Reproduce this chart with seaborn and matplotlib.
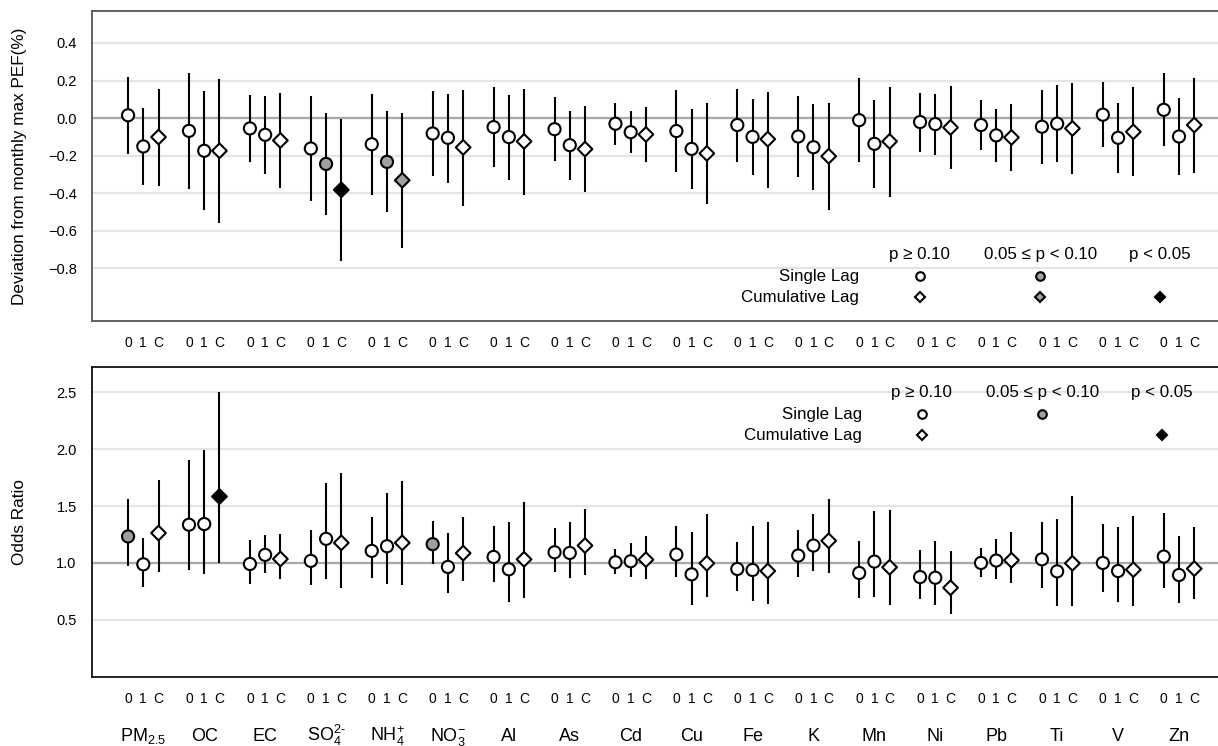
import matplotlib
matplotlib.use("Agg")
import matplotlib.pyplot as plt
import pandas as pd
import seaborn as sns


POLLUTANTS = [
    r"PM$_{2.5}$", "OC", "EC", r"SO$_4^{\mathrm{2\text{-}}}$", r"NH$_4^{+}$", r"NO$_3^{-}$",
    "Al", "As", "Cd", "Cu", "Fe", "K", "Mn", "Ni", "Pb", "Ti", "V", "Zn",
]
LAGS = ["0", "1", "C"]

# deviation from monthly max PEF (%), lag 0 / lag 1 / cumulative
PEF_EST = [
    [0.015, -0.151, -0.101], [-0.068, -0.174, -0.174], [-0.055, -0.089, -0.119],
    [-0.162, -0.244, -0.382], [-0.139, -0.233, -0.331], [-0.082, -0.105, -0.156],
    [-0.048, -0.101, -0.124], [-0.059, -0.144, -0.165], [-0.030, -0.075, -0.087],
    [-0.069, -0.164, -0.188], [-0.037, -0.100, -0.112], [-0.098, -0.155, -0.203],
    [-0.011, -0.137, -0.124], [-0.021, -0.032, -0.050], [-0.037, -0.092, -0.103],
    [-0.046, -0.030, -0.055], [0.018, -0.105, -0.073], [0.044, -0.098, -0.037],
]
PEF_LO = [
    [-0.190, -0.356, -0.359], [-0.377, -0.489, -0.556], [-0.235, -0.295, -0.370],
    [-0.439, -0.517, -0.759], [-0.409, -0.501, -0.690], [-0.308, -0.347, -0.466],
    [-0.261, -0.327, -0.407], [-0.231, -0.327, -0.396], [-0.142, -0.188, -0.233],
    [-0.286, -0.375, -0.457], [-0.233, -0.304, -0.370], [-0.316, -0.384, -0.489],
    [-0.236, -0.370, -0.418], [-0.178, -0.199, -0.270], [-0.172, -0.235, -0.281],
    [-0.247, -0.235, -0.299], [-0.156, -0.292, -0.309], [-0.151, -0.304, -0.293],
]
PEF_HI = [
    [0.219, 0.053, 0.156], [0.240, 0.142, 0.208], [0.123, 0.119, 0.133],
    [0.116, 0.028, -0.004], [0.128, 0.036, 0.028], [0.142, 0.128, 0.148],
    [0.165, 0.123, 0.155], [0.112, 0.039, 0.064], [0.080, 0.036, 0.057],
    [0.148, 0.048, 0.082], [0.155, 0.103, 0.140], [0.119, 0.075, 0.082],
    [0.213, 0.094, 0.167], [0.135, 0.130, 0.172], [0.098, 0.048, 0.073],
    [0.151, 0.176, 0.187], [0.190, 0.080, 0.165], [0.238, 0.108, 0.215],
]
# 0: p >= 0.10, 1: 0.05 <= p < 0.10, 2: p < 0.05
PEF_SIG = [
    [0, 0, 0], [0, 0, 0], [0, 0, 0], [0, 1, 2], [0, 1, 1], [0, 0, 0],
    [0, 0, 0], [0, 0, 0], [0, 0, 0], [0, 0, 0], [0, 0, 0], [0, 0, 0],
    [0, 0, 0], [0, 0, 0], [0, 0, 0], [0, 0, 0], [0, 0, 0], [0, 0, 0],
]

# odds ratio
OR_EST = [
    [1.233, 0.988, 1.263], [1.336, 1.342, 1.584], [0.991, 1.071, 1.035],
    [1.018, 1.212, 1.177], [1.106, 1.147, 1.177], [1.165, 0.965, 1.086],
    [1.053, 0.944, 1.032], [1.094, 1.088, 1.153], [1.006, 1.015, 1.029],
    [1.074, 0.900, 0.997], [0.947, 0.938, 0.929], [1.065, 1.153, 1.195],
    [0.912, 1.012, 0.962], [0.876, 0.870, 0.782], [1.000, 1.021, 1.024],
    [1.032, 0.926, 0.997], [1.000, 0.929, 0.941], [1.056, 0.894, 0.950],
]
OR_LO = [
    [0.976, 0.790, 0.920], [0.935, 0.903, 1.000], [0.814, 0.914, 0.855],
    [0.805, 0.855, 0.776], [0.870, 0.817, 0.805], [0.994, 0.735, 0.838],
    [0.835, 0.658, 0.690], [0.920, 0.870, 0.897], [0.903, 0.876, 0.858],
    [0.873, 0.634, 0.699], [0.755, 0.667, 0.637], [0.876, 0.926, 0.914],
    [0.693, 0.705, 0.628], [0.681, 0.634, 0.552], [0.876, 0.855, 0.826],
    [0.782, 0.622, 0.625], [0.746, 0.658, 0.622], [0.776, 0.646, 0.681],
]
OR_HI = [
    [1.560, 1.221, 1.729], [1.909, 1.994, 2.500], [1.198, 1.248, 1.254],
    [1.286, 1.705, 1.788], [1.407, 1.611, 1.723], [1.366, 1.265, 1.407],
    [1.327, 1.357, 1.540], [1.304, 1.360, 1.478], [1.124, 1.177, 1.236],
    [1.322, 1.268, 1.428], [1.183, 1.322, 1.363], [1.289, 1.431, 1.566],
    [1.192, 1.457, 1.466], [1.118, 1.195, 1.103], [1.133, 1.212, 1.268],
    [1.360, 1.386, 1.587], [1.339, 1.319, 1.413], [1.437, 1.236, 1.319],
]
OR_SIG = [
    [1, 0, 0], [0, 0, 2], [0, 0, 0], [0, 0, 0], [0, 0, 0], [1, 0, 0],
    [0, 0, 0], [0, 0, 0], [0, 0, 0], [0, 0, 0], [0, 0, 0], [0, 0, 0],
    [0, 0, 0], [0, 0, 0], [0, 0, 0], [0, 0, 0], [0, 0, 0], [0, 0, 0],
]

SIG_HEADERS = ["p \u2265 0.10", "0.05 \u2264 p < 0.10", "p < 0.05"]
SIG_COLORS = {0: "#ffffff", 1: "#a0a0a0", 2: "#000000"}
# which significance columns appear in each key row
TOP_KEY_SINGLE = [0, 1]
TOP_KEY_CUM = [0, 1, 2]
BOTTOM_KEY_SINGLE = [0, 1]
BOTTOM_KEY_CUM = [0, 2]

OFFSET = 0.25
W, H = 1218, 746


def build_frame(est, lo, hi, sig) -> pd.DataFrame:
    rows = []
    for i, name in enumerate(POLLUTANTS):
        for j, lag in enumerate(LAGS):
            rows.append({
                "pollutant": name,
                "lag": lag,
                "x": i + (j - 1) * OFFSET,
                "est": est[i][j],
                "lo": lo[i][j],
                "hi": hi[i][j],
                "sig": sig[i][j],
                "kind": "Cumulative" if lag == "C" else "Single",
            })
    return pd.DataFrame(rows)


def draw_panel(ax, df, ref, spine_color):
    ax.yaxis.grid(True, color="#e4e4e4", lw=1.6, zorder=0)
    ax.xaxis.grid(False)
    ax.axhline(ref, color="#a9a9a9", lw=1.6, zorder=1)
    ax.vlines(df["x"], df["lo"], df["hi"], color="black", lw=1.5, zorder=2)
    single = df[df["kind"] == "Single"]
    cum = df[df["kind"] == "Cumulative"]
    sns.scatterplot(data=single, x="x", y="est", hue="sig", palette=SIG_COLORS,
                    marker="o", s=76, edgecolor="black", linewidth=1.5,
                    legend=False, ax=ax, zorder=3)
    sns.scatterplot(data=cum, x="x", y="est", hue="sig", palette=SIG_COLORS,
                    marker="D", s=56, edgecolor="black", linewidth=1.5,
                    legend=False, ax=ax, zorder=3)

    ax.set_xlim(-0.842, 17.64)
    ax.set_xticks(range(len(POLLUTANTS)))
    ax.set_xticks(df["x"], minor=True)
    ax.set_xticklabels(df["lag"], minor=True)
    ax.xaxis.remove_overlapping_locs = False
    ax.tick_params(which="both", length=0, colors="black")
    ax.tick_params(axis="x", which="minor", pad=11, labelsize=10)
    ax.tick_params(axis="y", pad=11, labelsize=10.5)
    ax.set_xlabel("")
    for side in ["left", "top", "bottom"]:
        ax.spines[side].set_color(spine_color)
        ax.spines[side].set_linewidth(1.3)
    ax.spines["right"].set_visible(False)
    ax.yaxis.set_label_coords(-0.058, 0.5)


def draw_key(ax, cols_x, label_x, ys, single_cols, cum_cols):
    y_head, y_single, y_cum = ys
    for x, head in zip(cols_x, SIG_HEADERS):
        ax.text(x, y_head, head, transform=ax.transAxes, ha="center", va="center", fontsize=12.2)
    ax.text(label_x, y_single, "Single Lag", transform=ax.transAxes, ha="right", va="center", fontsize=12.2)
    ax.text(label_x, y_cum, "Cumulative Lag", transform=ax.transAxes, ha="right", va="center", fontsize=12.2)
    for c in single_cols:
        ax.plot(cols_x[c], y_single, marker="o", ms=6.2, mfc=SIG_COLORS[c], mec="black",
                mew=1.5, transform=ax.transAxes, clip_on=False, zorder=4)
    for c in cum_cols:
        ax.plot(cols_x[c], y_cum, marker="D", ms=5.6, mfc=SIG_COLORS[c], mec="black",
                mew=1.5, transform=ax.transAxes, clip_on=False, zorder=4)


def main() -> None:
    sns.set_theme(style="white")
    plt.rcParams["font.family"] = ["Liberation Sans", "DejaVu Sans"]
    plt.rcParams["text.color"] = "black"
    plt.rcParams["axes.labelcolor"] = "black"
    plt.rcParams["mathtext.fontset"] = "custom"
    plt.rcParams["mathtext.rm"] = "Liberation Sans"
    plt.rcParams["mathtext.it"] = "Liberation Sans:italic"
    plt.rcParams["mathtext.bf"] = "Liberation Sans:bold"

    top_df = build_frame(PEF_EST, PEF_LO, PEF_HI, PEF_SIG)
    bot_df = build_frame(OR_EST, OR_LO, OR_HI, OR_SIG)

    fig = plt.figure(figsize=(W / 100, H / 100), dpi=100)
    left = 92 / W
    width = 1 - left
    ax1 = fig.add_axes([left, 1 - 321 / H, width, 310 / H])
    ax2 = fig.add_axes([left, 1 - 676.7 / H, width, 309.4 / H])

    draw_panel(ax1, top_df, 0.0, "#555555")
    ax1.set_ylim(-1.08, 0.57)
    ax1.set_yticks([-0.8, -0.6, -0.4, -0.2, 0.0, 0.2, 0.4])
    ax1.set_xticklabels([""] * len(POLLUTANTS))
    ax1.set_ylabel("Deviation from monthly max PEF(%)", fontsize=12.3)
    draw_key(ax1, [0.735, 0.842, 0.9485], 0.681, (0.216, 0.145, 0.077),
             TOP_KEY_SINGLE, TOP_KEY_CUM)

    draw_panel(ax2, bot_df, 1.0, "#111111")
    ax2.set_ylim(0.0, 2.72)
    ax2.set_yticks([0.5, 1.0, 1.5, 2.0, 2.5])
    ax2.set_xticklabels(POLLUTANTS)
    ax2.tick_params(axis="x", which="major", pad=46, labelsize=13)
    for lbl in ax2.get_xticklabels():
        lbl.set_verticalalignment("baseline")
    ax2.set_ylabel("Odds Ratio", fontsize=12.3)
    draw_key(ax2, [0.737, 0.844, 0.950], 0.684, (0.919, 0.848, 0.78),
             BOTTOM_KEY_SINGLE, BOTTOM_KEY_CUM)

    fig.savefig("out.png", dpi=100)
    plt.close(fig)


if __name__ == "__main__":
    main()
